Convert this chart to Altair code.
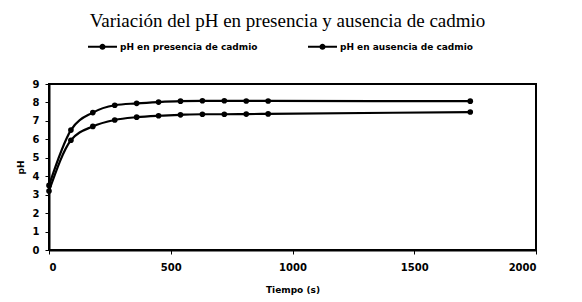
import altair as alt
import pandas as pd

tiempo = [0, 90, 180, 270, 360, 450, 540, 630, 720, 810, 900, 1730]
ph_ausencia = [3.5, 6.5, 7.45, 7.85, 7.95, 8.02, 8.07, 8.09, 8.09, 8.08, 8.08, 8.07]
ph_presencia = [3.2, 5.95, 6.7, 7.05, 7.2, 7.28, 7.33, 7.36, 7.36, 7.37, 7.38, 7.48]
series_names = ["pH en presencia de cadmio", "pH en ausencia de cadmio"]

rows = []
for t, v in zip(tiempo, ph_presencia):
    rows.append({"Tiempo": t, "pH": v, "Serie": series_names[0]})
for t, v in zip(tiempo, ph_ausencia):
    rows.append({"Tiempo": t, "pH": v, "Serie": series_names[1]})
df = pd.DataFrame(rows)

sym = ("M-1,-0.07 L1,-0.07 L1,0.07 L-1,0.07 Z "
       "M-0.21,0 A0.21,0.21 0 1,1 0.21,0 A0.21,0.21 0 1,1 -0.21,0 Z")

color = alt.Color(
    "Serie:N",
    scale=alt.Scale(domain=series_names, range=["black", "black"]),
    legend=alt.Legend(
        title=None, orient="none", direction="horizontal",
        legendX=39, legendY=-52, symbolType=sym, symbolSize=841,
        symbolStrokeWidth=0, symbolFillColor="black",
        labelFont="DejaVu Sans", labelFontWeight="bold", labelFontSize=9,
        labelColor="black", labelOffset=3, columnPadding=50, padding=0,
    ),
)

x = alt.X("Tiempo:Q", scale=alt.Scale(domain=[0, 2000], nice=False),
          axis=alt.Axis(values=[0, 500, 1000, 1500, 2000], format="d",
                        title="Tiempo (s)", titlePadding=13, labelPadding=8))
y = alt.Y("pH:Q", scale=alt.Scale(domain=[0, 9], nice=False),
          axis=alt.Axis(values=list(range(10)), title="pH", titlePadding=7))

base = alt.Chart(df)
lines = base.mark_line(color="black", strokeWidth=2.2, interpolate="monotone").encode(
    x=x, y=y, color=color, detail="Serie:N")
points = base.mark_circle(size=32, opacity=1, color="black").encode(
    x=x, y=y, color=alt.Color("Serie:N", scale=alt.Scale(domain=series_names, range=["black", "black"]), legend=None))

chart = alt.layer(lines, points).properties(
    width=487, height=166,
    background="white",
    autosize=alt.AutoSizeParams(type="none"),
    padding={"left": 41, "top": 76, "right": 30, "bottom": 50},
    title=alt.TitleParams(
        "Variación del pH en presencia y ausencia de cadmio",
        font="Liberation Serif", fontSize=19, fontWeight="normal",
        color="black", anchor="middle", offset=1, dx=-5,
    ),
).configure_view(stroke="black", strokeWidth=2).configure_axis(
    grid=False, domainColor="black", domainWidth=2, tickColor="black",
    tickSize=4, labelPadding=6, labelFont="DejaVu Sans", labelFontWeight="bold",
    labelFontSize=10, labelColor="black", titleFont="DejaVu Sans",
    titleFontWeight="bold", titleFontSize=9, titleColor="black",
)

chart.save("out.html", embed_options={"renderer": "svg", "actions": False})
